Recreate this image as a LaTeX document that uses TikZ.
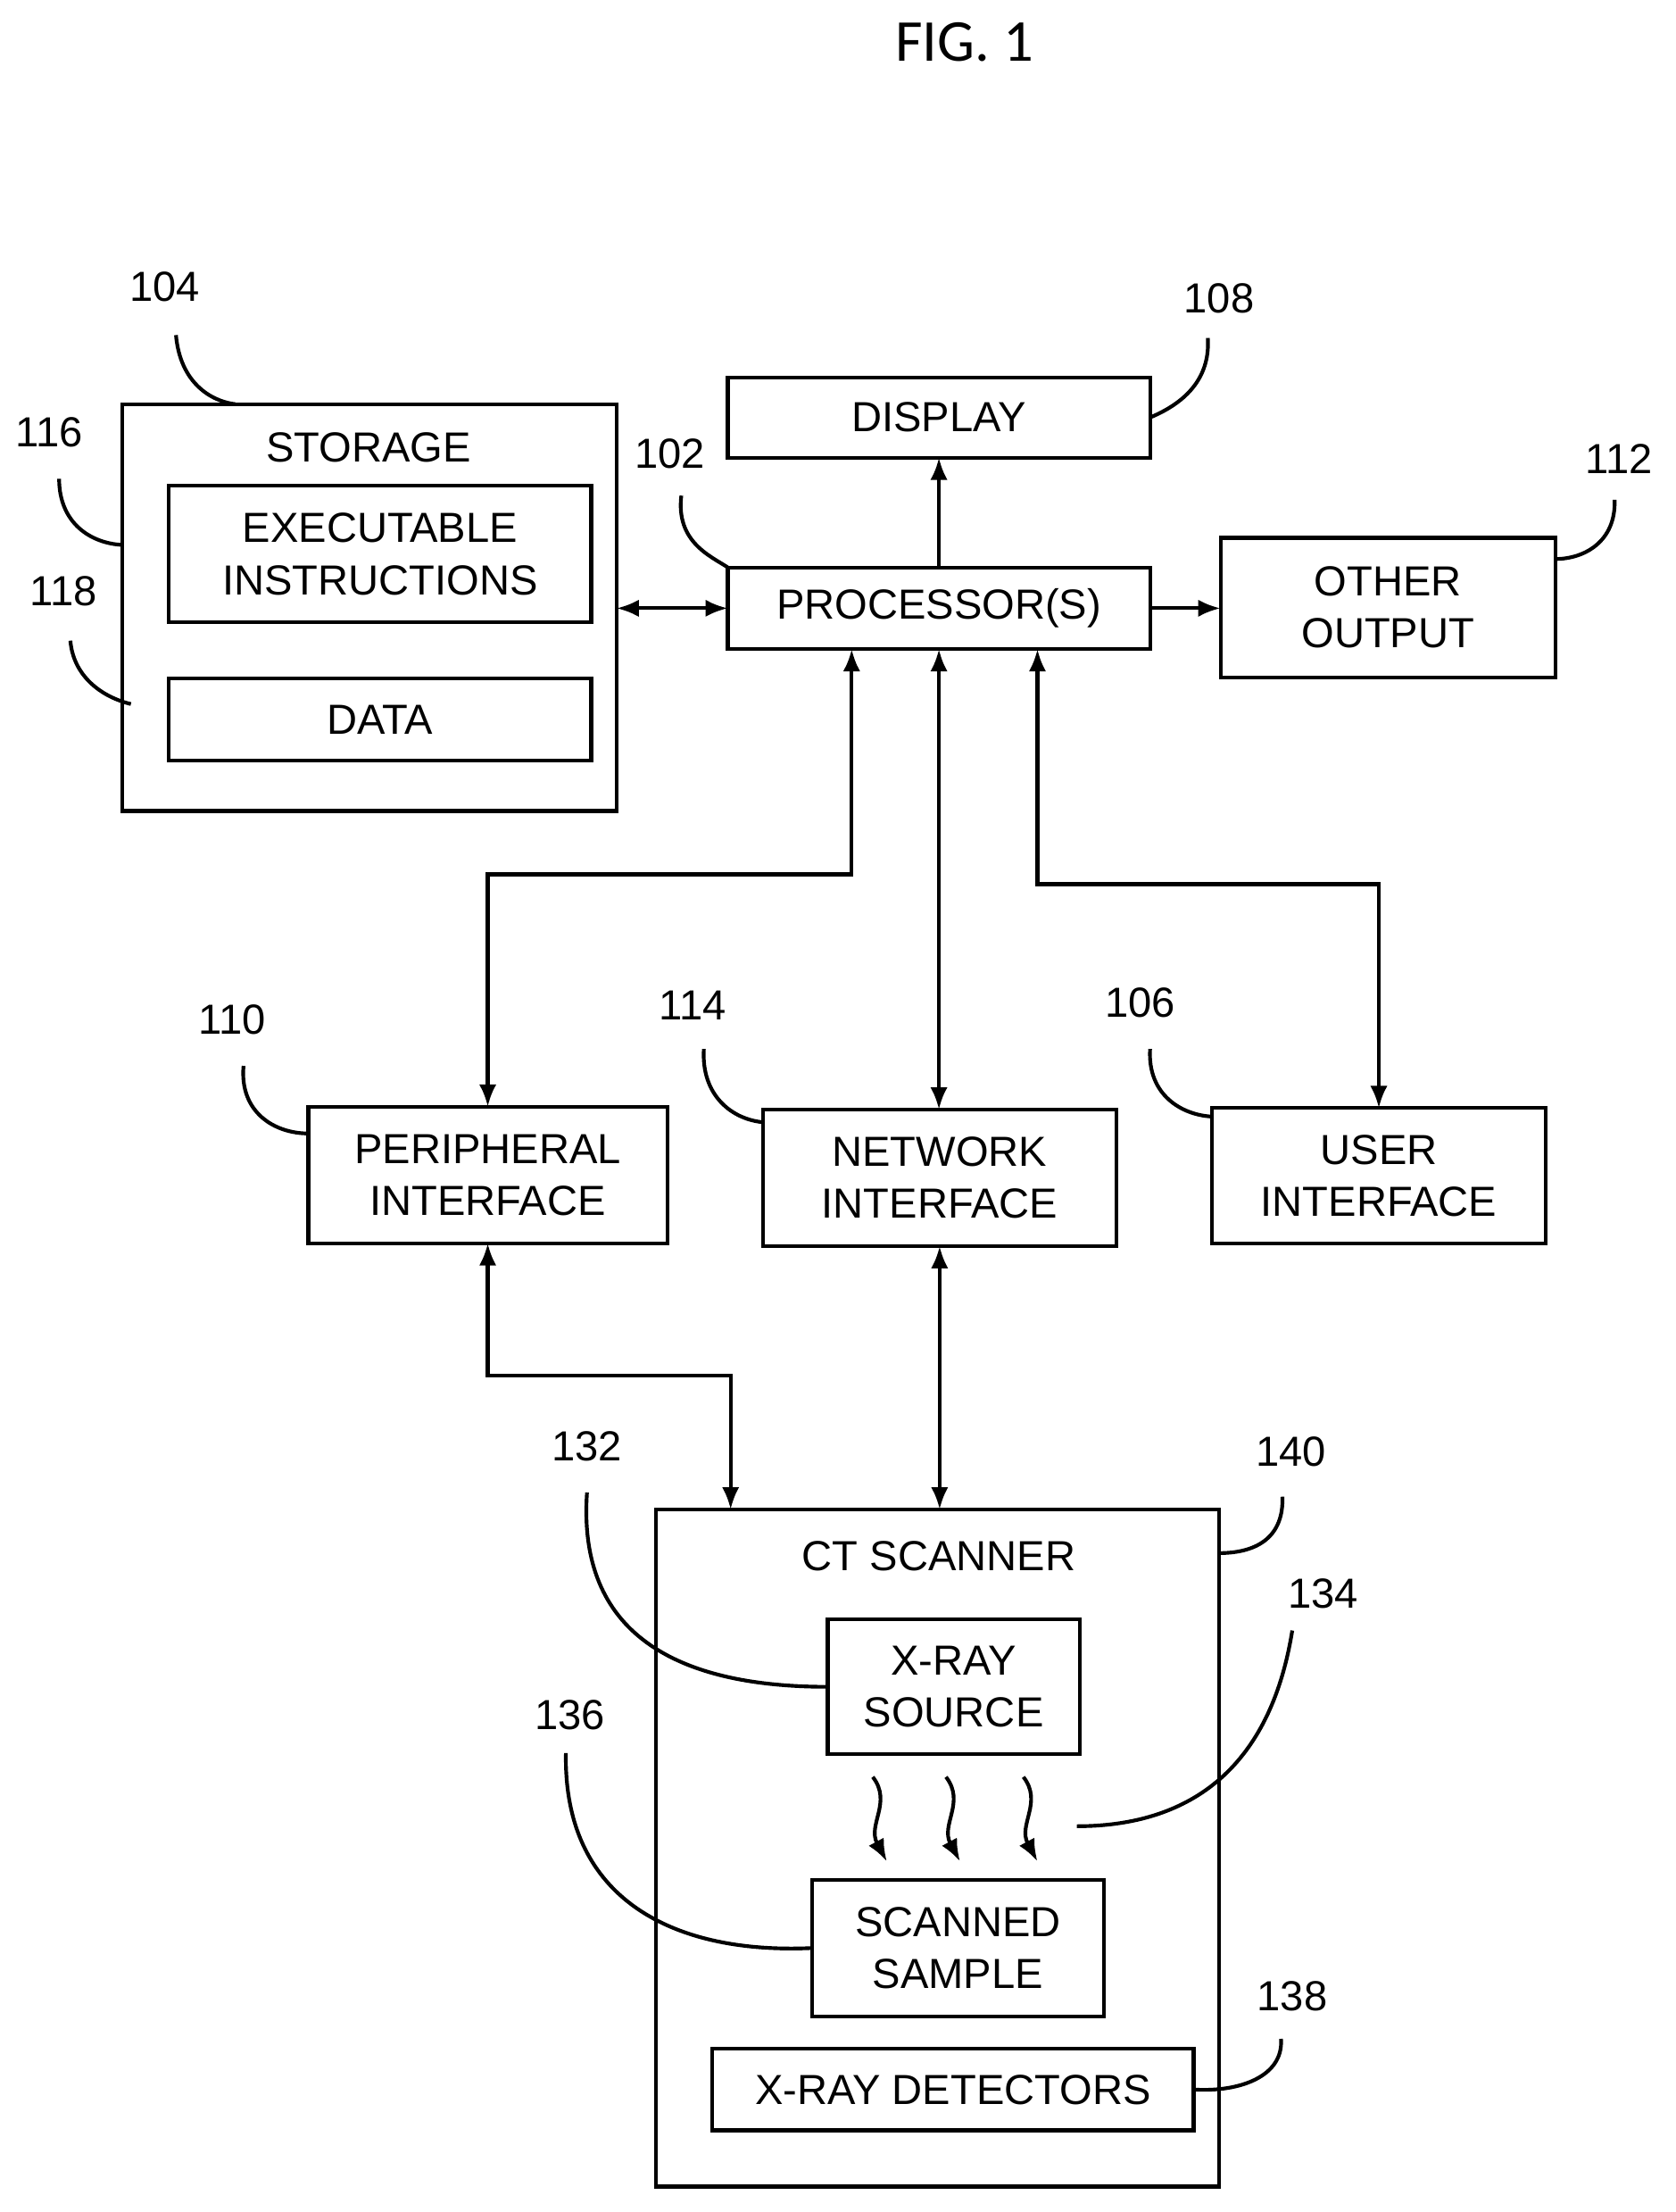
\documentclass[tikz,border=0pt]{standalone}
\usepackage{fontspec}
\setmainfont{Liberation Sans}
\newfontfamily\figfont{Carlito}
\usetikzlibrary{positioning,arrows.meta}

\begin{document}
\begin{tikzpicture}[x=0.02cm,y=-0.02cm,
    box/.style={draw,line width=1.5pt,inner sep=0pt,outer sep=0pt,align=center,
      font=\fontsize{17}{21}\selectfont},
    link/.style={line width=1.5pt,{Latex[length=9pt,width=7pt]}-{Latex[length=9pt,width=7pt]}},
    arr/.style={line width=1.5pt,-{Latex[length=9pt,width=7pt]}},
    lead/.style={line width=1.5pt},
    num/.style={font=\fontsize{17}{20}\selectfont}]
    \useasboundingbox (0,0) rectangle (1190,1571);
    \node[font=\figfont\fontsize{24}{28}\selectfont] (fig) at (685,30) {FIG. 1};
    % computer
    \node[box,minimum width=7.02cm,minimum height=5.78cm] (stor) at (262.5,431.5) {};
    \node[font=\fontsize{17}{21}\selectfont] (stortitle) at (262,318) {STORAGE};
    \node[box,minimum width=6cm,minimum height=1.94cm] (exec) at (270,393.5) {EXECUTABLE\\INSTRUCTIONS};
    \node[box,minimum width=6cm,minimum height=1.16cm] (data) at (270,511) {DATA};
    \node[box,minimum width=6cm,minimum height=1.14cm] (disp) at (667,296.5) {DISPLAY};
    \node[box,minimum width=6cm,minimum height=1.16cm] (proc) at (667,432) {PROCESSOR(S)};
    \node[box,minimum width=4.76cm,minimum height=1.98cm] (other) at (986,431.5) {OTHER\\OUTPUT};
    \node[box,minimum width=5.1cm,minimum height=1.94cm] (perif) at (346.5,834.5) {PERIPHERAL\\INTERFACE};
    \node[box,minimum width=5.02cm,minimum height=1.94cm] (net) at (667.5,836.5) {NETWORK\\INTERFACE};
    \node[box,minimum width=4.74cm,minimum height=1.92cm] (user) at (979.5,835) {USER\\INTERFACE};
    % scanner
    \node[box,minimum width=8cm,minimum height=9.62cm] (ct) at (666,1312.5) {};
    \node[font=\fontsize{17}{21}\selectfont] (cttitle) at (667,1105) {CT SCANNER};
    \node[box,minimum width=3.58cm,minimum height=1.92cm] (src) at (677.5,1198) {X-RAY\\SOURCE};
    \node[box,minimum width=4.14cm,minimum height=1.94cm] (smp) at (680.5,1383.5) {SCANNED\\SAMPLE};
    \node[box,minimum width=6.84cm,minimum height=1.16cm] (det) at (677,1484) {X-RAY DETECTORS};
    % connectors
    \draw[link] (stor.east |- proc) -- (proc.west);
    \draw[arr] (proc.north) -- (disp.south);
    \draw[arr] (proc.east) -- (proc.east -| other.west);
    \draw[link] ([xshift=-1.24cm]proc.south) -- ++(0cm,-3.2cm) -| (perif.north);
    \draw[link] (proc.south) -- (proc.south |- net.north);
    \draw[link] ([xshift=1.4cm]proc.south) -- ++(0cm,-3.34cm) -| (user.north);
    \draw[link] (perif.south) -- ++(0cm,-1.88cm) -| ([xshift=-2.94cm]ct.north);
    \draw[link] (net.south) -- (net.south |- ct.north);
    % rays
    \foreach \x in {620,672,727}
      \draw[arr] (\x,1262) .. controls (\x+14,1280) and (\x-4,1296) .. (\x+10,1322);
    % reference numbers
    \node[num] (n104) at (117,204) {104};
    \node[num] (n116) at (35,307) {116};
    \node[num] (n118) at (45,420) {118};
    \node[num] (n108) at (866,212) {108};
    \node[num] (n102) at (476,322) {102};
    \node[num] (n112) at (1150,326) {112};
    \node[num] (n110) at (165,724) {110};
    \node[num] (n114) at (492,714) {114};
    \node[num] (n106) at (810,712) {106};
    \node[num] (n132) at (417,1027) {132};
    \node[num] (n140) at (917,1031) {140};
    \node[num] (n134) at (940,1132) {134};
    \node[num] (n136) at (405,1218) {136};
    \node[num] (n138) at (918,1418) {138};
    \coordinate (t134) at (765,1297);
    \draw[lead] (125,238) .. controls (128,272) and (150,285) .. ([xshift=1.6cm]stor.north west);
    \draw[lead] (42,340) .. controls (42,372) and (65,386) .. ([yshift=-2cm]stor.north west);
    \draw[lead] (50,455) .. controls (52,480) and (72,495) .. (93,500);
    \draw[lead] (858,240) .. controls (860,270) and (840,287) .. (disp.east);
    \draw[lead] (484,352) .. controls (480,385) and (505,395) .. (proc.north west);
    \draw[lead] (1147,355) .. controls (1148,385) and (1125,397) .. ([yshift=-0.3cm]other.north east);
    \draw[lead] (173,757) .. controls (170,790) and (195,805) .. ([yshift=-0.38cm]perif.north west);
    \draw[lead] (500,745) .. controls (498,778) and (520,795) .. ([yshift=-0.18cm]net.north west);
    \draw[lead] (817,745) .. controls (815,778) and (840,792) .. ([yshift=-0.12cm]user.north west);
    \draw[lead] (417,1060) .. controls (410,1160) and (480,1198) .. (src.west);
    \draw[lead] (911,1063) .. controls (912,1090) and (895,1103) .. ([yshift=-0.62cm]ct.north east);
    \draw[lead] (918,1158) .. controls (900,1270) and (830,1297) .. (t134);
    \draw[lead] (402,1245) .. controls (400,1350) and (480,1388) .. (smp.west);
    \draw[lead] (910,1448) .. controls (912,1475) and (880,1486) .. (det.east);
\end{tikzpicture}
\end{document}
